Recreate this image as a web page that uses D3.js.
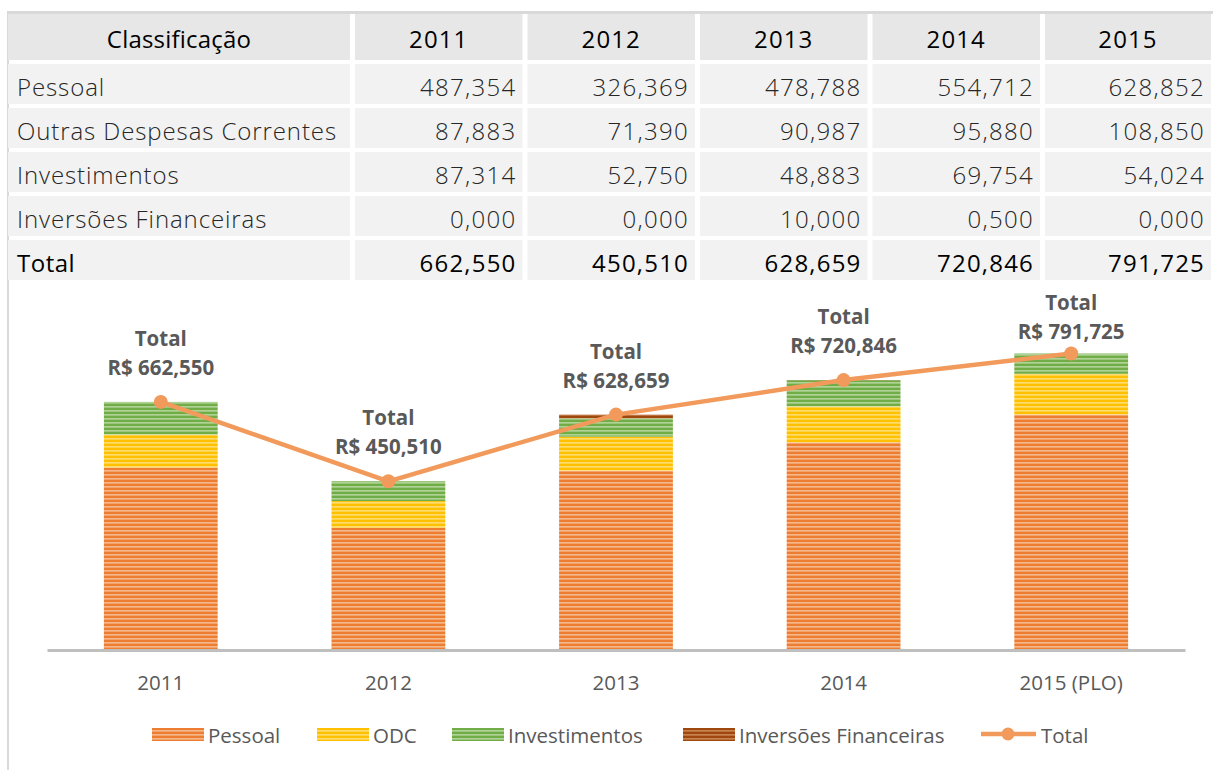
<!DOCTYPE html>
<html><head><meta charset="utf-8">
<script src="https://cdn.jsdelivr.net/npm/d3@7"></script>
<style>
body{margin:0;background:#fff;}
svg{display:block;}
</style></head>
<body>
<svg id="c" width="1213" height="770"></svg>
<script>
// ---- data ----
const years = ["2011","2012","2013","2014","2015"];
const xLabels = ["2011","2012","2013","2014","2015 (PLO)"];
const rowNames = ["Pessoal","Outras Despesas Correntes","Investimentos","Inversões Financeiras"];
const pessoal = [487.354, 326.369, 478.788, 554.712, 628.852];
const odc = [87.883, 71.390, 90.987, 95.880, 108.850];
const investimentos = [87.314, 52.750, 48.883, 69.754, 54.024];
const inversoes = [0.000, 0.000, 10.000, 0.500, 0.000];
const total = [662.550, 450.510, 628.659, 720.846, 791.725];
const seriesNames = ["Pessoal","ODC","Investimentos","Inversões Financeiras"];

const svg = d3.select("#c");
const fmt = v => d3.format(",.3f")(v).replace(".", ",");
const FONT = "'Open Sans', sans-serif";

// ---- frame ----
svg.append("rect").attr("x",7).attr("y",11).attr("width",1206).attr("height",3).attr("fill","#d9d9d9");
svg.append("rect").attr("x",7).attr("y",11).attr("width",2).attr("height",759).attr("fill","#d9d9d9");

// ---- table ----
const colX = [8,355,527.5,700,872.5,1045];
const colW = [342,167.5,167.5,167.5,167.5,166];
const rowY = [14,64,108,152,196,240];
const rowH = [46,40,40,40,40,40];
const tableRows = [pessoal, odc, investimentos, inversoes];
const g = svg.append("g");
for (let r=0;r<6;r++){
  for (let c=0;c<6;c++){
    g.append("rect").attr("x",colX[c]).attr("y",rowY[r]).attr("width",colW[c]).attr("height",rowH[r])
      .attr("fill", r===0 ? "#e7e7e7" : "#f2f2f2");
  }
}
// header
g.append("text").attr("x",colX[0]+colW[0]/2).attr("y",rowY[0]+rowH[0]/2+1)
  .attr("text-anchor","middle").attr("dominant-baseline","central")
  .style("font-family",FONT).style("font-size","24px").style("font-weight",500).attr("fill","#000")
  .attr("letter-spacing","0.2").text("Classificação");
years.forEach((y,i)=>{
  g.append("text").attr("x",colX[i+1]+colW[i+1]/2).attr("y",rowY[0]+rowH[0]/2+1)
   .attr("text-anchor","middle").attr("dominant-baseline","central")
   .style("font-family",FONT).style("font-size","24px").style("font-weight",500).attr("fill","#000")
   .attr("letter-spacing","1.1").text(y);
});
tableRows.forEach((arr,r)=>{
  const cy = rowY[r+1]+rowH[r+1]/2+2;
  g.append("text").attr("x",17).attr("y",cy).attr("dominant-baseline","central")
   .style("font-family",FONT).style("font-size","24px").style("font-weight",300).attr("fill","#262626")
   .attr("letter-spacing","0.9").text(rowNames[r]);
  arr.forEach((v,i)=>{
    g.append("text").attr("x",colX[i+1]+colW[i+1]-6).attr("y",cy).attr("text-anchor","end")
     .attr("dominant-baseline","central")
     .style("font-family",FONT).style("font-size","24px").style("font-weight",300).attr("fill","#262626")
     .attr("letter-spacing","1.3").text(fmt(v));
  });
});
{
  const cy = rowY[5]+rowH[5]/2+2;
  g.append("text").attr("x",17).attr("y",cy).attr("dominant-baseline","central")
   .style("font-family",FONT).style("font-size","24px").style("font-weight",500).attr("fill","#000")
   .attr("letter-spacing","0.5").text("Total");
  total.forEach((v,i)=>{
    g.append("text").attr("x",colX[i+1]+colW[i+1]-6).attr("y",cy).attr("text-anchor","end")
     .attr("dominant-baseline","central")
     .style("font-family",FONT).style("font-size","24px").style("font-weight",500).attr("fill","#000")
     .attr("letter-spacing","1.2").text(fmt(v));
  });
}

// ---- patterns ----
const defs = svg.append("defs");
const pal = [
  {id:"pPes", base:"#ed7d31", light:"#f9caa6", mid:"#f2a46c"},
  {id:"pOdc", base:"#ffc000", light:"#ffe68f", mid:"#ffd24d"},
  {id:"pInv", base:"#70ad47", light:"#c6e0b1", mid:"#98c67a"},
  {id:"pInf", base:"#9e480e", light:"#d99a6c", mid:"#b96a33"}
];
pal.forEach(p=>{
  const pt = defs.append("pattern").attr("id",p.id).attr("patternUnits","userSpaceOnUse")
    .attr("width",8).attr("height",4);
  pt.append("rect").attr("width",8).attr("height",4).attr("fill",p.base);
  pt.append("rect").attr("y",2).attr("width",8).attr("height",1).attr("fill",p.mid);
  pt.append("rect").attr("y",2.5).attr("width",8).attr("height",1).attr("fill",p.light);
});

// ---- chart ----
const x = d3.scaleBand().domain(xLabels).range([47,1185]).paddingInner(0.5).paddingOuter(0.25);
const y = d3.scaleLinear().domain([0,900]).range([650,313]);

const stackData = years.map((yr,i)=>({key:xLabels[i], Pessoal:pessoal[i], ODC:odc[i], Investimentos:investimentos[i], "Inversões Financeiras":inversoes[i]}));
const stack = d3.stack().keys(seriesNames)(stackData);
const cg = svg.append("g");
stack.forEach((s,si)=>{
  cg.append("g").attr("fill",`url(#${pal[si].id})`)
    .selectAll("rect").data(s).join("rect")
    .attr("x",d=>x(d.data.key)).attr("width",x.bandwidth())
    .attr("y",d=>y(d[1])).attr("height",d=>Math.max(0,y(d[0])-y(d[1])));
});

// axis
const axG = svg.append("g").attr("transform","translate(0,650)")
  .call(d3.axisBottom(x).tickSize(0).tickPadding(25));
axG.select(".domain").attr("stroke","#bfbfbf").attr("stroke-width",3);
axG.selectAll("text").style("font-family",FONT).style("font-size","20.5px").attr("fill","#595959");

// total line
const lineColor = "#f19a5b";
const cx = i => x(xLabels[i]) + x.bandwidth()/2;
const line = d3.line().x((d,i)=>cx(i)).y(d=>y(d));
svg.append("path").datum(total).attr("d",line).attr("fill","none")
  .attr("stroke",lineColor).attr("stroke-width",4.5).attr("stroke-linejoin","round");
svg.selectAll("circle.pt").data(total).join("circle").attr("class","pt")
  .attr("cx",(d,i)=>cx(i)).attr("cy",d=>y(d)).attr("r",7).attr("fill",lineColor);

// total labels
total.forEach((v,i)=>{
  const ly = Math.max(y(v)-34, 332);
  const t = svg.append("text").attr("text-anchor","middle")
    .style("font-family",FONT).style("font-size","20.5px").style("font-weight",700).attr("fill","#595959");
  t.append("tspan").attr("x",cx(i)).attr("y",ly-29+7).text("Total");
  t.append("tspan").attr("x",cx(i)).attr("y",ly+7).text("R$ " + fmt(v));
});

// legend
const legItems = [
  {t:"Pessoal", x:152, p:"pPes"},
  {t:"ODC", x:317, p:"pOdc"},
  {t:"Investimentos", x:452, p:"pInv"},
  {t:"Inversões Financeiras", x:683, p:"pInf"}
];
const lg = svg.append("g");
legItems.forEach(it=>{
  lg.append("rect").attr("x",it.x).attr("y",728).attr("width",52).attr("height",13).attr("fill",`url(#${it.p})`);
  lg.append("text").attr("x",it.x+56).attr("y",735).attr("dominant-baseline","central")
    .style("font-family",FONT).style("font-size","20.5px").attr("fill","#595959").text(it.t);
});
lg.append("line").attr("x1",981).attr("x2",1036).attr("y1",734).attr("y2",734).attr("stroke",lineColor).attr("stroke-width",4.5);
lg.append("circle").attr("cx",1008).attr("cy",734).attr("r",6.5).attr("fill",lineColor);
lg.append("text").attr("x",1041).attr("y",735).attr("dominant-baseline","central")
  .style("font-family",FONT).style("font-size","20.5px").attr("fill","#595959").text("Total");
</script>
</body></html>
